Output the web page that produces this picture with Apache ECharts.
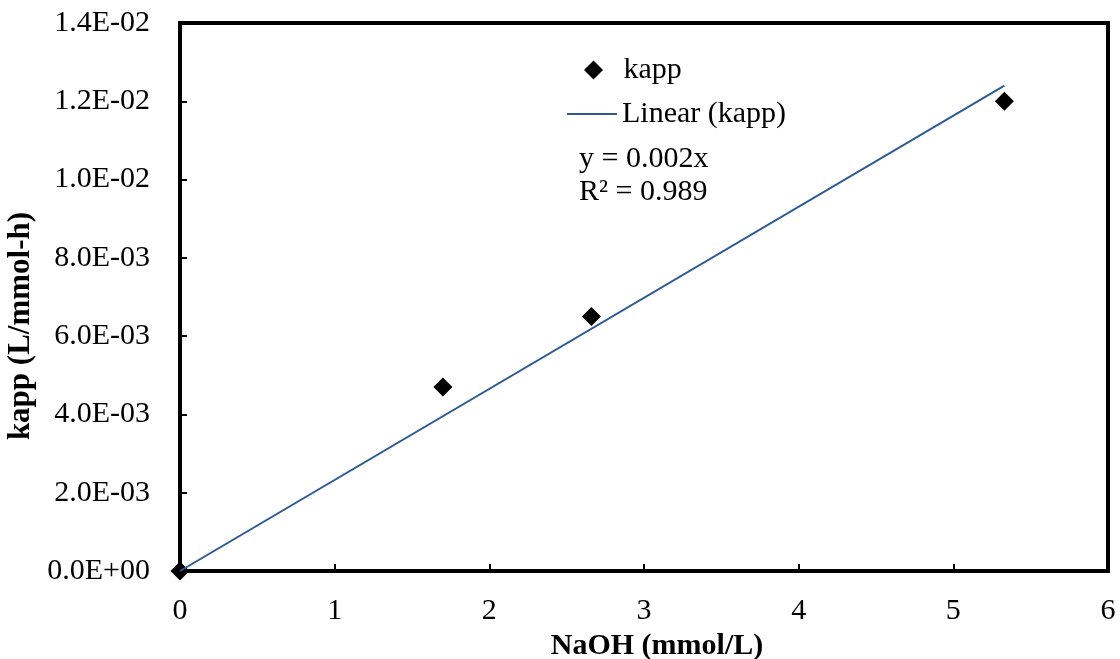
<!DOCTYPE html>
<html>
<head>
<meta charset="utf-8">
<script src="https://cdn.jsdelivr.net/npm/echarts@6/dist/echarts.min.js"></script>
<style>
  html, body { margin: 0; padding: 0; background: #fff; }
  #main { width: 1120px; height: 659px; }
</style>
</head>
<body>
<div id="main"></div>
<script>
// measured points (NaOH mmol/L vs kapp L/mmol-h)
var naoh = [0, 1.7, 2.66, 5.33];
var kapp = [0, 0.0047, 0.0065, 0.012];
// trend line ends
var trendX = [0, 5.33];
var trendY = [0, 0.0124];
var eqLines = ["y = 0.002x", "R\u00b2 = 0.989"];

var font = "'Liberation Serif', 'DejaVu Serif', serif";

function sci(v) {
  if (Math.abs(v) < 1e-12) return "0.0E+00";
  var s = v.toExponential(1).split("e");
  var e = parseInt(s[1], 10);
  var sign = e < 0 ? "-" : "+";
  e = Math.abs(e);
  return s[0] + "E" + sign + (e < 10 ? "0" + e : "" + e);
}

var chartDom = document.getElementById("main");
var myChart = echarts.init(chartDom);
var option;

var legendText = { fontFamily: font, fontSize: 30, color: "#000" };

option = {
  animation: false,
  grid: {
    left: 180,
    right: 12,
    top: 23,
    bottom: 88,
    outerBoundsMode: "none",
    containLabel: false,
    show: true,
    borderColor: "#000",
    borderWidth: 4,
  },
  legend: [
    {
      left: 579,
      top: 50,
      itemWidth: 50,
      itemHeight: 19,
      symbolKeepAspect: true,
      textStyle: legendText,
      data: [{ name: "kapp", icon: "path://M9,0 L18,9 L9,18 L0,9 Z" }],
    },
    {
      left: 562,
      top: 94,
      itemWidth: 50,
      itemHeight: 2,
      textStyle: legendText,
      data: [{ name: "Linear (kapp)", icon: "rect" }],
    },
  ],
  graphic: [
    {
      type: "text",
      left: 579,
      top: 144,
      style: { text: eqLines[0], font: "30px " + font, fill: "#000" },
    },
    {
      type: "text",
      left: 579,
      top: 177,
      style: { text: eqLines[1], font: "30px " + font, fill: "#000" },
    },
  ],
  xAxis: {
    type: "value",
    min: 0,
    max: 6,
    interval: 1,
    name: "NaOH (mmol/L)",
    nameLocation: "middle",
    nameGap: 60,
    nameTextStyle: {
      fontFamily: font,
      fontSize: 30,
      fontWeight: "bold",
      color: "#000",
      padding: [0, 0, 0, 26],
    },
    axisLine: { show: true, lineStyle: { color: "#000", width: 4 } },
    axisTick: { show: true, inside: true, length: 7, lineStyle: { color: "#000", width: 2 } },
    axisLabel: { margin: 25, fontFamily: font, fontSize: 30, color: "#000" },
    splitLine: { show: false },
  },
  yAxis: {
    type: "value",
    min: 0,
    max: 0.014,
    interval: 0.002,
    name: "kapp (L/mmol-h)",
    nameLocation: "middle",
    nameGap: 134,
    nameTextStyle: {
      fontFamily: font,
      fontSize: 31,
      fontWeight: "bold",
      color: "#000",
      padding: [0, 58, 0, 0],
    },
    axisLine: { show: true, lineStyle: { color: "#000", width: 4 } },
    axisTick: { show: true, inside: true, length: 7, lineStyle: { color: "#000", width: 2 } },
    axisLabel: {
      margin: 30,
      fontFamily: font,
      fontSize: 30,
      color: "#000",
      formatter: sci,
    },
    splitLine: { show: false },
  },
  series: [
    {
      name: "kapp",
      type: "scatter",
      symbol: "diamond",
      symbolSize: 19,
      itemStyle: { color: "#000", opacity: 1 },
      data: naoh.map(function (x, i) {
        return [x, kapp[i]];
      }),
      z: 3,
    },
    {
      name: "Linear (kapp)",
      type: "line",
      symbol: "none",
      lineStyle: { color: "#2E5A94", width: 2 },
      itemStyle: { color: "#2E5A94" },
      data: trendX.map(function (x, i) {
        return [x, trendY[i]];
      }),
      z: 4,
    },
  ],
};

option && myChart.setOption(option);
</script>
</body>
</html>
